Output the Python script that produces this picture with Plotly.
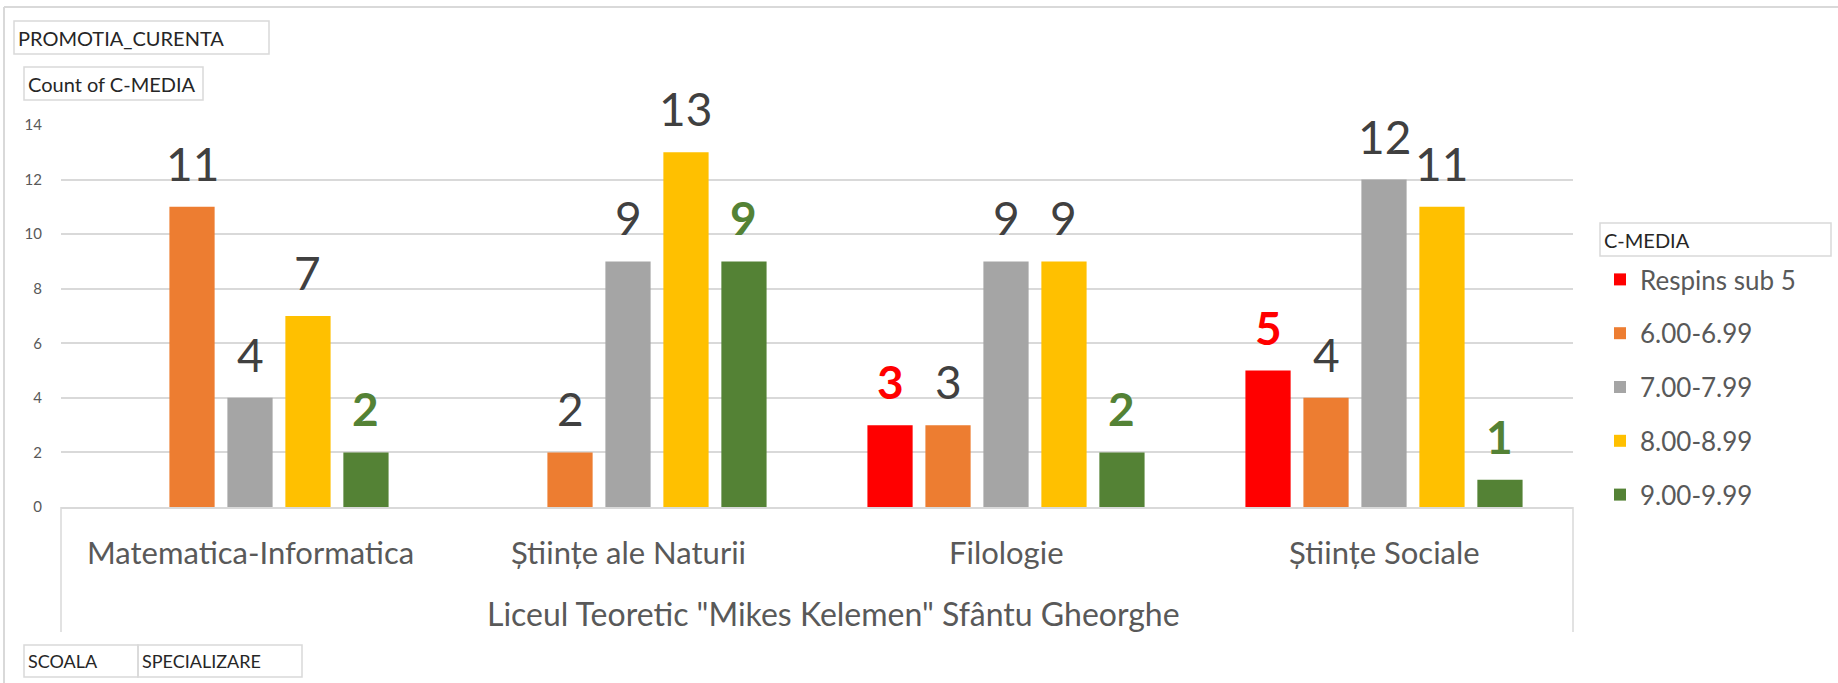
import plotly.graph_objects as go

# ---- data ----
school = 'Liceul Teoretic "Mikes Kelemen" Sfântu Gheorghe'
categories = ["Matematica-Informatica", "Științe ale Naturii", "Filologie", "Științe Sociale"]
series_names = ["Respins sub 5", "6.00-6.99", "7.00-7.99", "8.00-8.99", "9.00-9.99"]
respins = [None, None, 3, 5]
m6 = [11, 2, 3, 4]
m7 = [4, 9, 9, 12]
m8 = [7, 13, 9, 11]
m9 = [2, 9, 2, 1]
y_ticks = [0, 2, 4, 6, 8, 10, 12, 14]

series_values = [respins, m6, m7, m8, m9]
colors = ["#FF0000", "#ED7D31", "#A5A5A5", "#FFC000", "#548235"]
label_colors = ["#FF0000", "#404040", "#404040", "#404040", "#548235"]
label_bold = [True, False, False, False, True]

W, H = 1838, 683
ML, MR, MT, MB = 61, 265, 125, 176
PW = W - ML - MR
PH = H - MT - MB

def px(x):
    return (x - ML) / PW

def py(y):
    return (H - MB - y) / PH

BARGAP = 0.233
GROUPGAP = 0.22
xs = list(range(len(categories)))

FONT = "Lato, Open Sans, sans-serif"

fig = go.Figure()
for k, (name, vals) in enumerate(zip(series_names, series_values)):
    fig.add_trace(go.Bar(
        x=xs, y=vals, name=name, marker_color=colors[k],
        marker_line_width=0, legendgroup=name,
    ))

# data labels
slot = (1 - BARGAP) / len(series_names)
annotations = []
for k, vals in enumerate(series_values):
    for i, v in enumerate(vals):
        if v is None:
            continue
        txt = f"<b>{v}</b>" if label_bold[k] else str(v)
        annotations.append(dict(
            x=xs[i] + (k - 2) * slot, y=v, xref="x", yref="y",
            text=txt, showarrow=False, yanchor="bottom", yshift=14,
            font=dict(family=FONT, size=46, color=label_colors[k]),
        ))

# category labels
for i, c in enumerate(categories):
    annotations.append(dict(
        x=xs[i], y=py(552), xref="x", yref="paper", text=c, showarrow=False,
        yanchor="middle", font=dict(family=FONT, size=31, color="#595959"),
    ))
annotations.append(dict(
    x=px(833), y=py(613), xref="paper", yref="paper", text=school, showarrow=False,
    yanchor="middle", font=dict(family=FONT, size=32, color="#595959"),
))

# field buttons
def field(x0, y0, x1, y1, text, size):
    annotations.append(dict(
        x=px(x0 + 2), y=py((y0 + y1) / 2), xref="paper", yref="paper", text=text,
        showarrow=False, xanchor="left", yanchor="middle",
        font=dict(family=FONT, size=size, color="#262626"),
    ))
    return dict(type="rect", xref="paper", yref="paper",
                x0=px(x0), x1=px(x1), y0=py(y0), y1=py(y1),
                line=dict(color="#D9D9D9", width=1.5), fillcolor="rgba(0,0,0,0)")

shapes = [
    field(14, 21, 269, 54, "PROMOTIA_CURENTA", 20),
    field(24, 67, 203, 100, "Count of C-MEDIA", 20),
    field(1600, 223, 1831, 256, "C-MEDIA", 20),
    field(24, 645, 138, 677, "SCOALA", 18),
    field(138, 645, 302, 677, "SPECIALIZARE", 18),
]
# category axis frame
for xv in (ML, W - MR):
    shapes.append(dict(type="line", xref="paper", yref="paper",
                       x0=px(xv), x1=px(xv), y0=py(H - MB), y1=py(632),
                       line=dict(color="#D9D9D9", width=1.5)))
# outer chart border (top and left)
shapes.append(dict(type="line", xref="paper", yref="paper",
                   x0=px(4), x1=px(W + 10), y0=py(7), y1=py(7),
                   line=dict(color="#D9D9D9", width=2)))
shapes.append(dict(type="line", xref="paper", yref="paper",
                   x0=px(4), x1=px(4), y0=py(7), y1=py(H + 10),
                   line=dict(color="#D9D9D9", width=2)))

fig.update_layout(
    width=W, height=H,
    margin=dict(l=ML, r=MR, t=MT, b=MB, pad=0),
    paper_bgcolor="white", plot_bgcolor="white",
    barmode="group", bargap=BARGAP, bargroupgap=GROUPGAP,
    showlegend=True,
    legend=dict(
        x=px(1600), y=py(256), xanchor="left", yanchor="top",
        font=dict(family=FONT, size=26, color="#595959"),
        tracegroupgap=17, bgcolor="rgba(0,0,0,0)", borderwidth=0,
        traceorder="grouped",
    ),
    xaxis=dict(range=[-0.5, 3.5], showticklabels=False, showgrid=False,
               zeroline=False, showline=True, linecolor="#D9D9D9", linewidth=2,
               ticks="", fixedrange=True),
    yaxis=dict(range=[0, 14], tickvals=y_ticks, showgrid=True, gridcolor="#D9D9D9",
               gridwidth=1.5, zeroline=False, showline=False, ticks="",
               ticklabelstandoff=18,
               tickfont=dict(family=FONT, size=15, color="#595959")),
    annotations=annotations,
    shapes=shapes,
    font=dict(family=FONT),
)

fig.write_html("out.html", config={"displayModeBar": False},
               post_script="document.body.style.margin='0';document.body.style.overflow='hidden';")
